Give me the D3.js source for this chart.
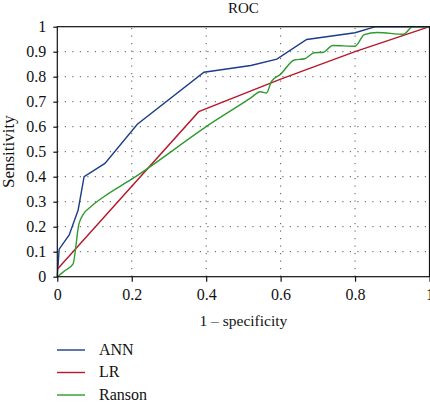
<!DOCTYPE html>
<html>
<head>
<meta charset="utf-8">
<script src="https://cdn.jsdelivr.net/npm/d3@7"></script>
<style>
  html, body { margin: 0; padding: 0; background: #fff; }
  svg { display: block; }
  text { font-family: "Liberation Serif", "DejaVu Serif", serif; fill: #111; }
</style>
</head>
<body>
<svg id="chart" width="430" height="403"></svg>
<script>
// ---- data ----
const seriesNames = ["ANN", "LR", "Ranson"];
const seriesColors = ["#1b3d8a", "#b8182b", "#2f9a2f"];
const annPoints = [[0,0],[0.005,0.11],[0.032,0.167],[0.056,0.267],[0.072,0.40],[0.128,0.453],[0.215,0.61],[0.394,0.818],[0.52,0.845],[0.59,0.87],[0.67,0.949],[0.8,0.976],[0.855,1],[1,1]];
const lrPoints = [[0,0.03],[0.38,0.66],[0.6,0.79],[0.8,0.9],[1,1]];
const ransonPoints = [[0,0],[0.021,0.025],[0.042,0.05],[0.058,0.21],[0.07,0.25],[0.09,0.28],[0.125,0.32],[0.2,0.39],[0.42,0.62],[0.52,0.715],[0.545,0.74],[0.562,0.735],[0.575,0.78],[0.6,0.81],[0.637,0.867],[0.665,0.872],[0.69,0.896],[0.715,0.898],[0.74,0.925],[0.8,0.922],[0.825,0.968],[0.86,0.977],[0.93,0.97],[0.955,1],[1,1]];
const xTicks = [0, 0.2, 0.4, 0.6, 0.8, 1];
const yTicks = [0, 0.1, 0.2, 0.3, 0.4, 0.5, 0.6, 0.7, 0.8, 0.9, 1];
const titleText = "ROC";
const xLabel = "1 \u2013 specificity";
const yLabel = "Sensitivity";

// ---- layout ----
const svg = d3.select("#chart");
const L = 57.3, R = 429.5, T = 26.7, B = 276.7;
const x = d3.scaleLinear().domain([0, 1]).range([L, R]);
const y = d3.scaleLinear().domain([0, 1]).range([B, T]);

// grid
const grid = svg.append("g");
grid.selectAll("line.gx").data(xTicks.filter(d => d > 0 && d < 1)).join("line")
  .attr("x1", d => x(d)).attr("x2", d => x(d)).attr("y1", B).attr("y2", T)
  .attr("stroke", "#555").attr("stroke-width", 1).attr("stroke-dasharray", "1.2,6.3");
grid.selectAll("line.gy").data(yTicks.filter(d => d > 0 && d < 1)).join("line")
  .attr("x1", L).attr("x2", R).attr("y1", d => y(d)).attr("y2", d => y(d))
  .attr("stroke", "#555").attr("stroke-width", 1).attr("stroke-dasharray", "1.2,6.3");

// curves
const lineStraight = d3.line().x(d => x(d[0])).y(d => y(d[1]));
const lineSmooth = d3.line().x(d => x(d[0])).y(d => y(d[1])).curve(d3.curveMonotoneX);
const series = [annPoints, lrPoints, ransonPoints];
series.forEach((pts, i) => {
  svg.append("path").datum(pts)
    .attr("d", i === 2 ? lineSmooth : lineStraight)
    .attr("fill", "none").attr("stroke", seriesColors[i]).attr("stroke-width", 1.4);
});

// frame
svg.append("rect").attr("x", L).attr("y", T).attr("width", R - L).attr("height", B - T)
  .attr("fill", "none").attr("stroke", "#111").attr("stroke-width", 1.2);

// axes
const xAxis = svg.append("g").attr("transform", `translate(0,${B})`)
  .call(d3.axisBottom(x).tickValues(xTicks).tickSize(5).tickPadding(7).tickFormat(d3.format("")));
const yAxis = svg.append("g").attr("transform", `translate(${L},0)`)
  .call(d3.axisLeft(y).tickValues(yTicks).tickSize(4).tickPadding(7).tickFormat(d3.format("")));
[xAxis, yAxis].forEach(a => {
  a.attr("font-family", null);
  a.select(".domain").remove();
  a.selectAll(".tick line").attr("stroke", "#111").attr("stroke-width", 1.2);
  a.selectAll("text").attr("font-size", 16).attr("fill", "#111");
});

// title & labels
svg.append("text").attr("x", (L + R) / 2).attr("y", 13).attr("text-anchor", "middle")
  .attr("font-size", 15).text(titleText);
svg.append("text").attr("x", (L + R) / 2).attr("y", 326).attr("text-anchor", "middle")
  .attr("font-size", 15.5).text(xLabel);
svg.append("text").attr("transform", `translate(14,${(T + B) / 2}) rotate(-90)`)
  .attr("text-anchor", "middle").attr("font-size", 17).text(yLabel);

// legend
const lg = svg.append("g");
seriesNames.forEach((name, i) => {
  const ly = 350 + i * 22.5;
  lg.append("line").attr("x1", 57).attr("x2", 85).attr("y1", ly).attr("y2", ly)
    .attr("stroke", seriesColors[i]).attr("stroke-width", 1.4);
  lg.append("text").attr("x", 99).attr("y", ly + 4.5).attr("font-size", 16).text(name);
});
</script>
</body>
</html>
